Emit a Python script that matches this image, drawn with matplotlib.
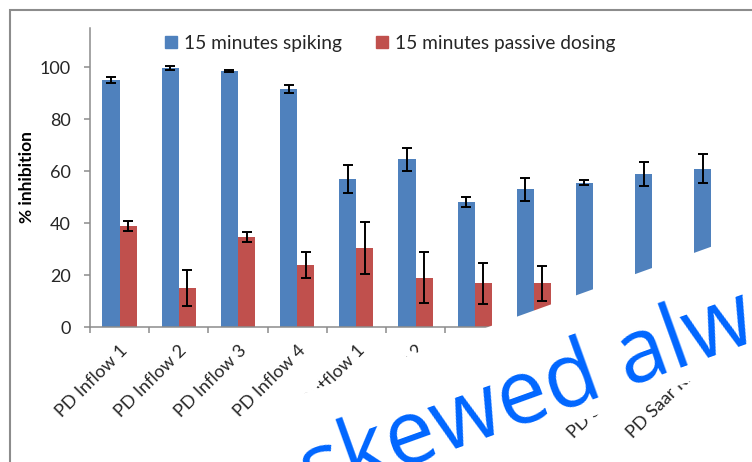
import numpy as np
import matplotlib.pyplot as plt
from matplotlib.lines import Line2D
from matplotlib.patches import Polygon, Rectangle

plt.rcParams['font.family'] = ['Lato', 'DejaVu Sans']

# data
categories = ["PD Inflow 1", "PD Inflow 2", "PD Inflow 3", "PD Inflow 4",
              "PD Outflow 1", "PD Outflow 2", "PD Outflow 3", "PD Outflow 4",
              "PD Outflow 5", "PD Saar River 1", "PD Saar River 2"]
spiking = [95.0, 99.6, 98.4, 91.5, 56.8, 64.5, 48.2, 53.0, 55.5, 58.7, 60.9]
spiking_err = [1.2, 0.9, 0.5, 1.5, 5.4, 4.4, 1.9, 4.4, 1.0, 4.6, 5.6]
passive = [38.8, 14.9, 34.6, 23.8, 30.3, 19.0, 16.8, 16.8, np.nan, np.nan, np.nan]
passive_err = [1.8, 7.0, 2.0, 5.0, 10.0, 9.8, 8.0, 6.7, np.nan, np.nan, np.nan]
yticks = [0, 20, 40, 60, 80, 100]

blue = '#4F81BD'
red = '#C0504D'
txt = '#262626'
W, H = 752, 462

fig = plt.figure(figsize=(W / 100, H / 100), dpi=100)

# chart area border (only left and top edges are in view)
fig.add_artist(Rectangle((10 / W, -40 / H), 900 / W, (462 - 10 + 40) / H,
                         transform=fig.transFigure, fill=False,
                         edgecolor='#8c8c8c', linewidth=1.5, zorder=0))

ax = fig.add_axes([90 / W, 135 / H, 651 / W, 299 / H])
x = np.arange(len(categories))
w = 0.29
ekw = dict(ecolor='black', elinewidth=1.4, capsize=3.6, capthick=1.4)
ax.bar(x - w / 2, spiking, w, color=blue, yerr=spiking_err, error_kw=ekw, zorder=2)
ax.bar(x + w / 2, passive, w, color=red, yerr=passive_err, error_kw=ekw, zorder=2)

ax.set_xlim(-0.5, len(categories) - 0.5)
ax.set_ylim(0, 115)
ax.set_yticks(yticks)
ax.set_xticks(x)
ax.set_xticklabels(categories, rotation=45, ha='right', rotation_mode='anchor')
ax.set_xticks(np.arange(-0.5, len(categories), 1), minor=True)
ax.tick_params(axis='x', which='major', length=0, pad=11, labelsize=13, labelcolor=txt)
ax.tick_params(axis='x', which='minor', length=4.3, width=1.1, color='#8c8c8c', direction='out')
ax.tick_params(axis='y', length=4, width=1.1, color='#8c8c8c', pad=10, labelsize=13, labelcolor=txt)
for s in ['top', 'right']:
    ax.spines[s].set_visible(False)
for s in ['left', 'bottom']:
    ax.spines[s].set_color('#8c8c8c')
    ax.spines[s].set_linewidth(1.1)

ax.set_ylabel('% inhibition', fontsize=12.5, fontweight='bold', color='black')
ax.yaxis.set_label_coords(-0.085, 0.5)

handles = [Line2D([], [], marker='s', linestyle='none', markersize=8, color=blue),
           Line2D([], [], marker='s', linestyle='none', markersize=8, color=red)]
fig.legend(handles, ['15 minutes spiking', '15 minutes passive dosing'],
           loc='center', bbox_to_anchor=(390 / W, 1 - 43 / H), ncol=2, frameon=False,
           fontsize=13.8, handlelength=0.7, handletextpad=0.35, columnspacing=1.7,
           labelcolor=txt)

# white skewed band with blue text laid over the chart
def px(xi, yi):
    return (xi / W, (H - yi) / H)

slope = 0.36
top = lambda xi: 317 - slope * (xi - 516)
bot = lambda xi: 444 - slope * (xi - 516)
band = [px(-50, top(-50)), px(850, top(850)), px(850, bot(850)), px(-50, bot(-50))]
fig.add_artist(Polygon(band, closed=True, transform=fig.transFigure,
                       facecolor='white', edgecolor='none', zorder=5))
ang = np.degrees(np.arctan(slope))
fig.text(163 / W, (H - 554) / H, 'are skewed always', fontsize=64,
         family=['Open Sans', 'DejaVu Sans'], color='#0066FF', rotation=ang,
         rotation_mode='anchor', ha='left', va='baseline', zorder=6)

fig.savefig('out.png', dpi=100)
